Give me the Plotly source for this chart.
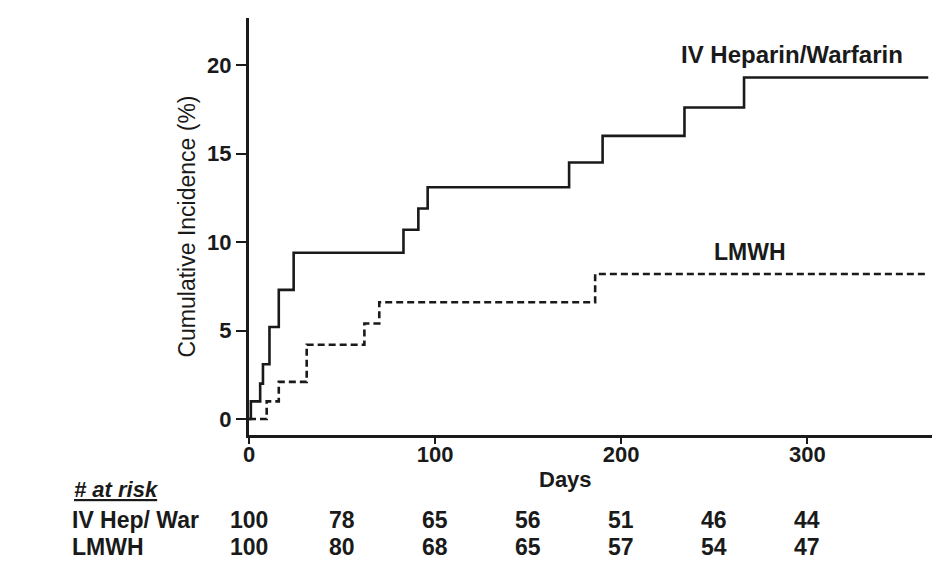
import plotly.graph_objects as go

# Data
iv_days = [0, 1, 6, 7.5, 11, 16, 24, 83, 91, 96, 172, 190, 234, 266, 365]
iv_vals = [0, 1.0, 2.0, 3.1, 5.2, 7.3, 9.4, 10.7, 11.9, 13.1, 14.5, 16.0, 17.6, 19.3, 19.3]
lm_days = [0, 9.5, 16, 31, 62, 70, 186, 365]
lm_vals = [0, 1.0, 2.1, 4.2, 5.4, 6.6, 8.2, 8.2]

risk_days = [0, 50, 100, 150, 200, 250, 300]
risk_iv = [100, 78, 65, 56, 51, 46, 44]
risk_lm = [100, 80, 68, 65, 57, 54, 47]

FONT = "Liberation Sans"
INK = "#1a1a1a"
W, H = 932, 573
L, R, T, B = 249, 932, 18, 435


def px(xp, yp):
    return (xp - L) / (R - L), (B - yp) / (B - T)


fig = go.Figure()
fig.add_trace(go.Scatter(x=iv_days, y=iv_vals, mode="lines", line_shape="hv",
                         line=dict(color=INK, width=2.6), showlegend=False))
fig.add_trace(go.Scatter(x=lm_days, y=lm_vals, mode="lines", line_shape="hv",
                         line=dict(color=INK, width=2.6, dash="7px,4px"), showlegend=False))

xx, yy = px(792, 54)
fig.add_annotation(x=xx, y=yy, xref="paper", yref="paper", text="IV Heparin/Warfarin",
                   showarrow=False, xanchor="center", yanchor="middle",
                   font=dict(family=FONT, size=24, color=INK, weight="bold"))
xx, yy = px(750, 252)
fig.add_annotation(x=xx, y=yy, xref="paper", yref="paper", text="LMWH",
                   showarrow=False, xanchor="center", yanchor="middle",
                   font=dict(family=FONT, size=23, color=INK, weight="bold"))
xx, yy = px(565, 479)
fig.add_annotation(x=xx, y=yy, xref="paper", yref="paper", text="Days", showarrow=False,
                   xanchor="center", yanchor="middle",
                   font=dict(family=FONT, size=22, color=INK, weight="bold"))

# at-risk table
xx, yy = px(72, 489)
fig.add_annotation(x=xx, y=yy, xref="paper", yref="paper", text="<u><i># at risk</i></u>",
                   showarrow=False, xanchor="left", yanchor="middle",
                   font=dict(family=FONT, size=22, color=INK, weight="bold"))
for label, vals, yp in [("IV Hep/ War", risk_iv, 520), ("LMWH", risk_lm, 547)]:
    xx, yy = px(70, yp)
    fig.add_annotation(x=xx, y=yy, xref="paper", yref="paper", text=label,
                       showarrow=False, xanchor="left", yanchor="middle",
                       font=dict(family=FONT, size=23, color=INK, weight="bold"))
    for d, v in zip(risk_days, vals):
        _, yy = px(0, yp)
        fig.add_annotation(x=d, y=yy, xref="x", yref="paper", text=str(v),
                           showarrow=False, xanchor="center", yanchor="middle",
                           font=dict(family=FONT, size=23, color=INK, weight="bold"))

fig.update_layout(
    width=W, height=H,
    margin=dict(l=L, r=W - R, t=T, b=H - B),
    paper_bgcolor="white", plot_bgcolor="white",
    font=dict(family=FONT, color=INK),
)
fig.update_xaxes(range=[0, 367], tickvals=[0, 100, 200, 300], ticks="outside", ticklen=6,
                 tickwidth=2, tickcolor=INK, showline=True, linewidth=3, linecolor=INK,
                 showgrid=False, zeroline=False, ticklabelstandoff=-8,
                 tickfont=dict(family=FONT, size=22, color=INK, weight="bold"))
fig.update_yaxes(range=[-0.9, 22.66], tickvals=[0, 5, 10, 15, 20], ticks="outside", ticklen=10,
                 tickwidth=2, tickcolor=INK, showline=True, linewidth=3, linecolor=INK,
                 showgrid=False, zeroline=False,
                 title=dict(text="Cumulative Incidence (%)", standoff=6,
                            font=dict(family=FONT, size=23, color=INK)),
                 tickfont=dict(family=FONT, size=22, color=INK, weight="bold"))

fig.write_html("out.html")
